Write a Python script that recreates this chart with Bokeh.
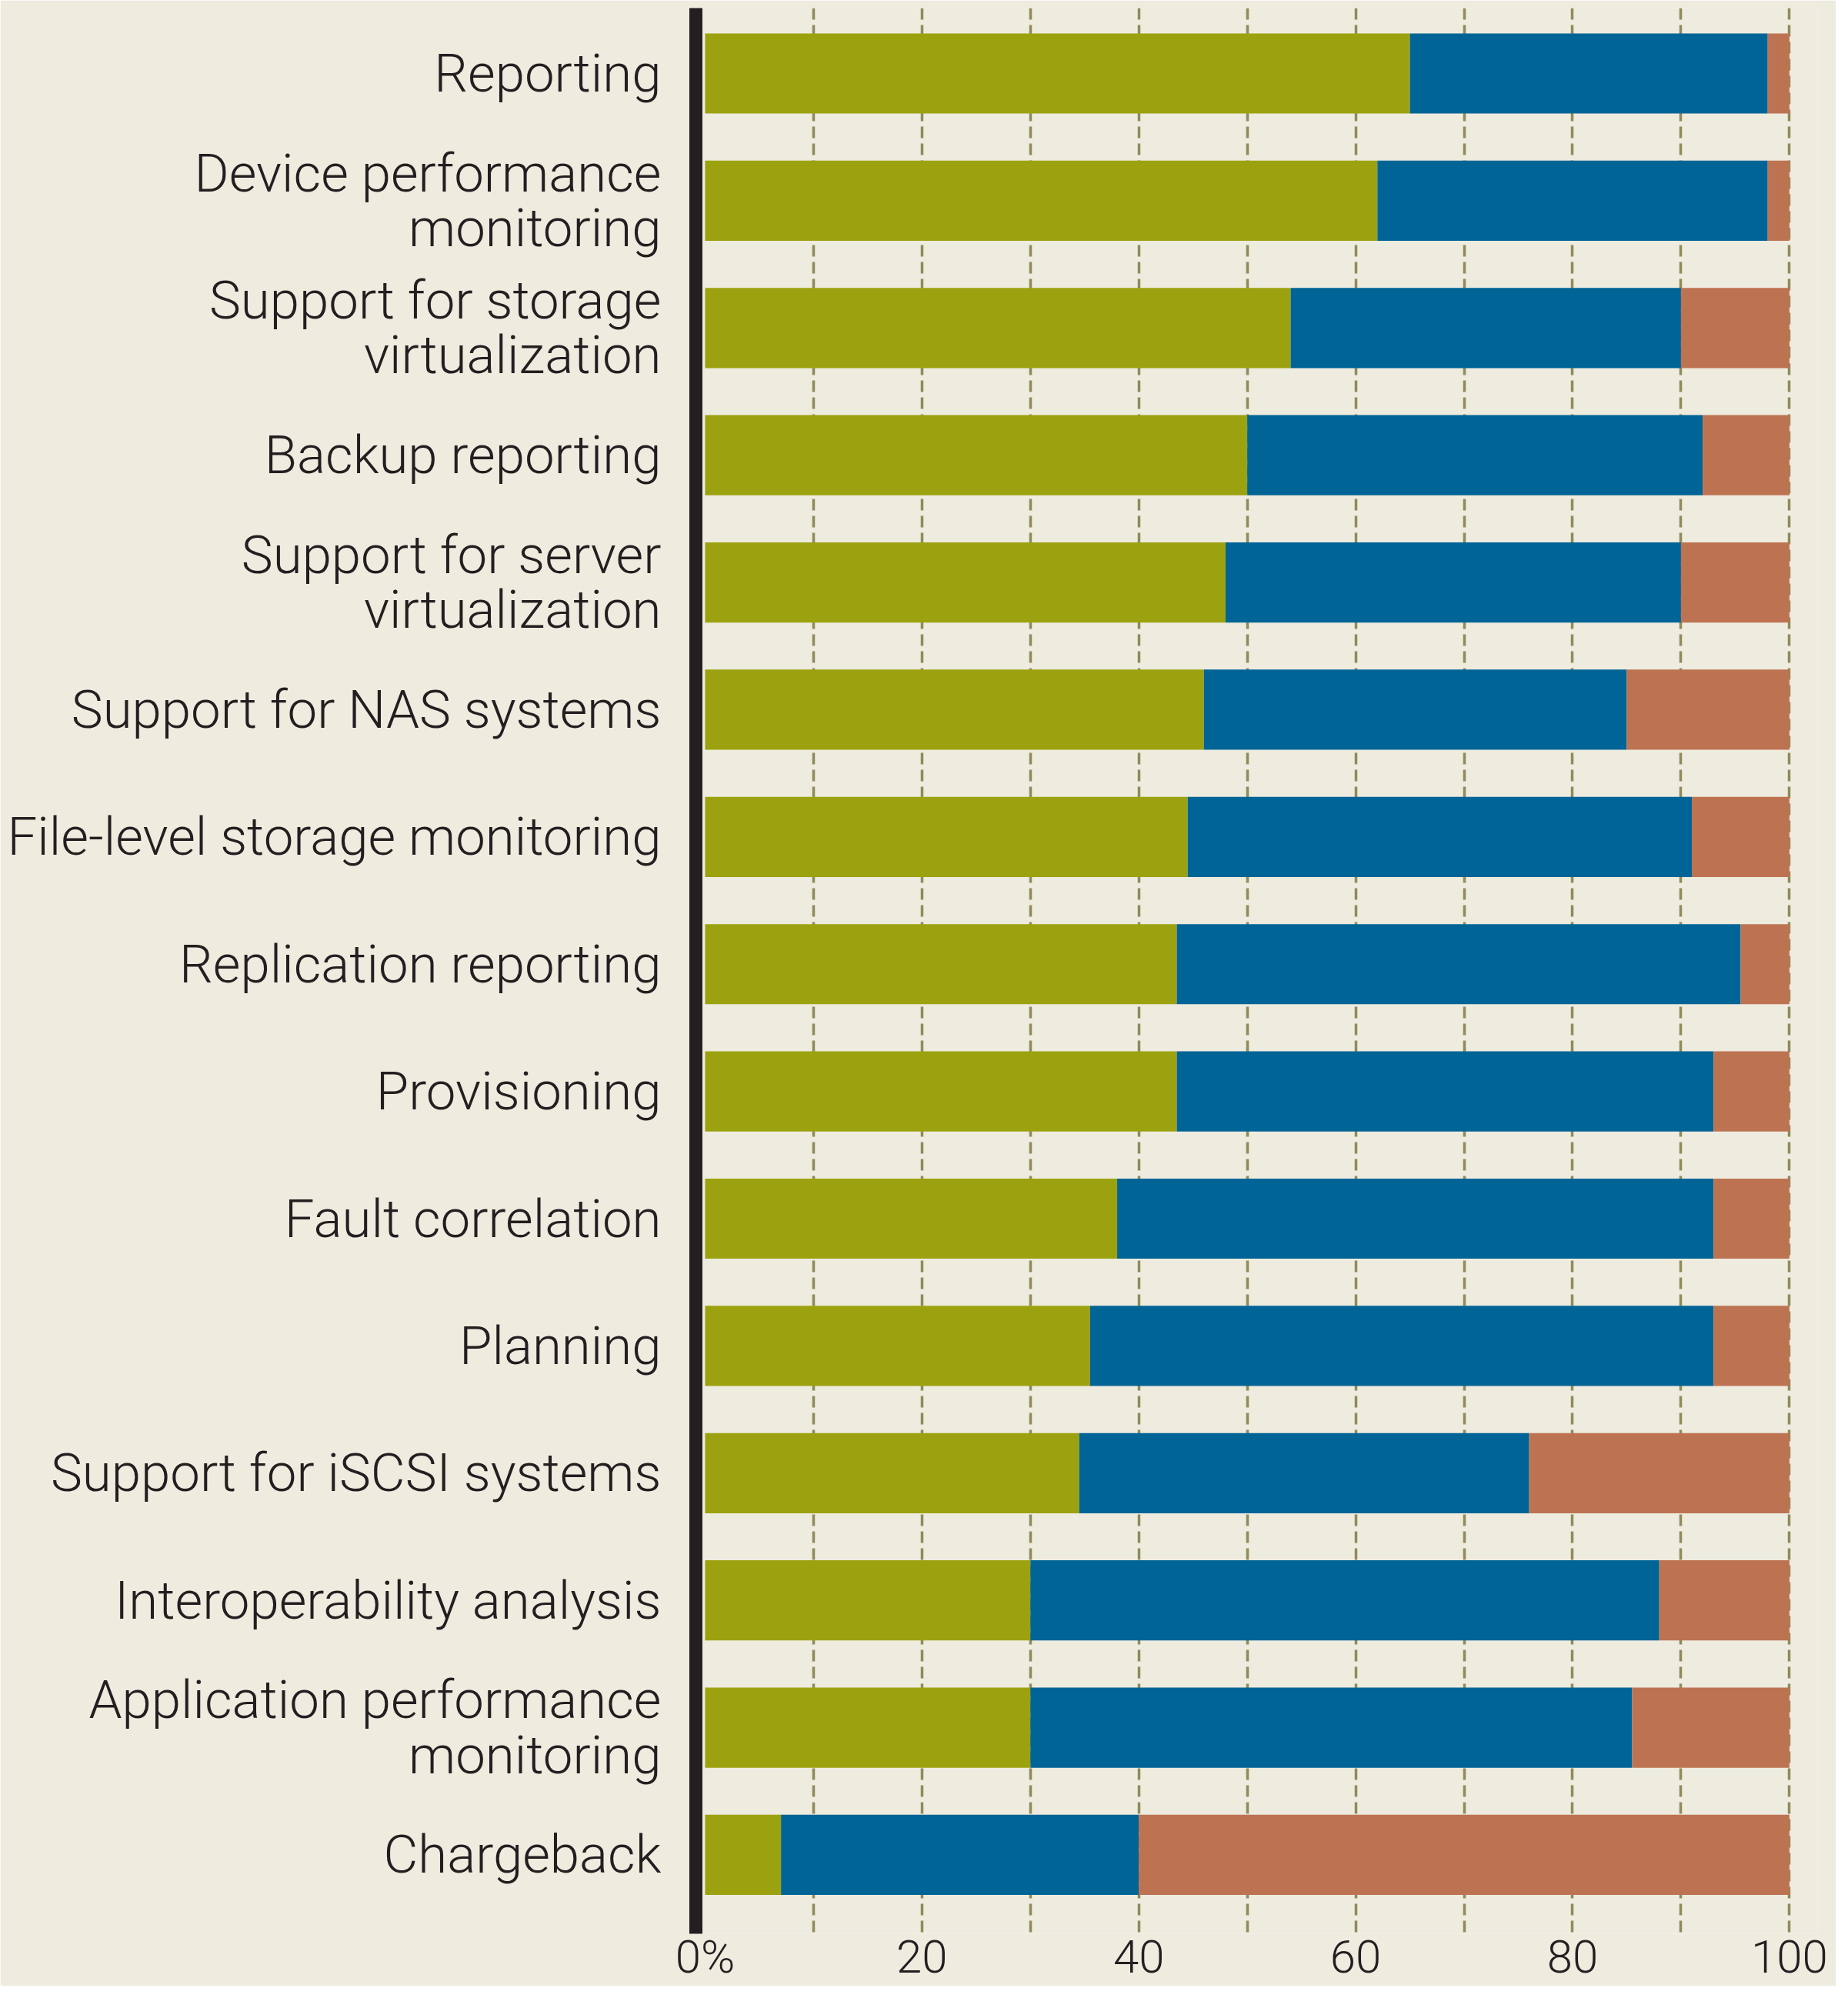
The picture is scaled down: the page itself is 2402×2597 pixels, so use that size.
from bokeh.plotting import figure
from bokeh.models import ColumnDataSource, Range1d, FixedTicker
from bokeh.embed import file_html
from bokeh.resources import INLINE

categories = [
    "Reporting",
    "Device performance\nmonitoring",
    "Support for storage\nvirtualization",
    "Backup reporting",
    "Support for server\nvirtualization",
    "Support for NAS systems",
    "File-level storage monitoring",
    "Replication reporting",
    "Provisioning",
    "Fault correlation",
    "Planning",
    "Support for iSCSI systems",
    "Interoperability analysis",
    "Application performance\nmonitoring",
    "Chargeback",
]
green = [65, 62, 54, 50, 48, 46, 44.5, 43.5, 43.5, 38, 35.5, 34.5, 30, 30, 7]
blue = [33, 36, 36, 42, 42, 39, 46.5, 52, 49.5, 55, 57.5, 41.5, 58, 55.5, 33]
orange = [2, 2, 10, 8, 10, 15, 9, 4.5, 7, 7, 7, 24, 12, 14.5, 60]
x_ticks = [0, 20, 40, 60, 80, 100]
x_tick_labels = ["0%", "20", "40", "60", "80", "100"]
grid_ticks = [10, 20, 30, 40, 50, 60, 70, 80, 90, 100]

BG = "#eeebdf"
TXT = "#231f20"
FONT = "'Roboto Light', Roboto"

ypos = list(range(len(categories)))
source = ColumnDataSource(dict(y=ypos, green=green, blue=blue, orange=orange))

p = figure(
    width=2386, height=2581,
    x_range=Range1d(-0.85, 102.6),
    y_range=Range1d(len(categories) - 1 + 0.62, -0.514),
    output_backend="svg", toolbar_location=None,
    background_fill_color=BG, border_fill_color=BG,
    min_border_left=904, min_border_right=24, min_border_top=10, min_border_bottom=60,
)
p.outline_line_color = None

p.hbar_stack(["green", "blue", "orange"], y="y", height=0.63,
             color=["#9ca20f", "#006496", "#bd7352"], line_color=None, source=source)

# x axis
p.xaxis.ticker = FixedTicker(ticks=x_ticks)
p.xaxis.major_label_overrides = {t: l for t, l in zip(x_ticks, x_tick_labels)}
p.xaxis.axis_line_color = None
p.xaxis.major_tick_line_color = None
p.xaxis.major_tick_out = 0
p.xaxis.major_tick_in = 0
p.xaxis.minor_tick_line_color = None
p.xaxis.major_label_text_font = FONT
p.xaxis.major_label_text_font_size = "60px"
p.xaxis.major_label_text_color = TXT
p.xaxis.major_label_standoff = -6

# y axis
p.yaxis.ticker = FixedTicker(ticks=ypos)
p.yaxis.major_label_overrides = {i: c for i, c in zip(ypos, categories)}
p.yaxis.axis_line_color = TXT
p.yaxis.axis_line_width = 17
p.yaxis.major_tick_line_color = None
p.yaxis.major_tick_out = 0
p.yaxis.major_tick_in = 0
p.yaxis.minor_tick_line_color = None
p.yaxis.major_label_text_font = FONT
p.yaxis.major_label_text_font_size = "69px"
p.yaxis.major_label_text_color = TXT
p.yaxis.major_label_text_line_height = 0.88
p.yaxis.major_label_standoff = 45

# grid
p.ygrid.grid_line_color = None
p.xgrid.ticker = FixedTicker(ticks=grid_ticks)
p.xgrid.grid_line_color = "#8f8b5b"
p.xgrid.grid_line_width = 3.5
p.xgrid.grid_line_dash = "15 7"

open("out.html", "w").write(file_html(p, INLINE))
